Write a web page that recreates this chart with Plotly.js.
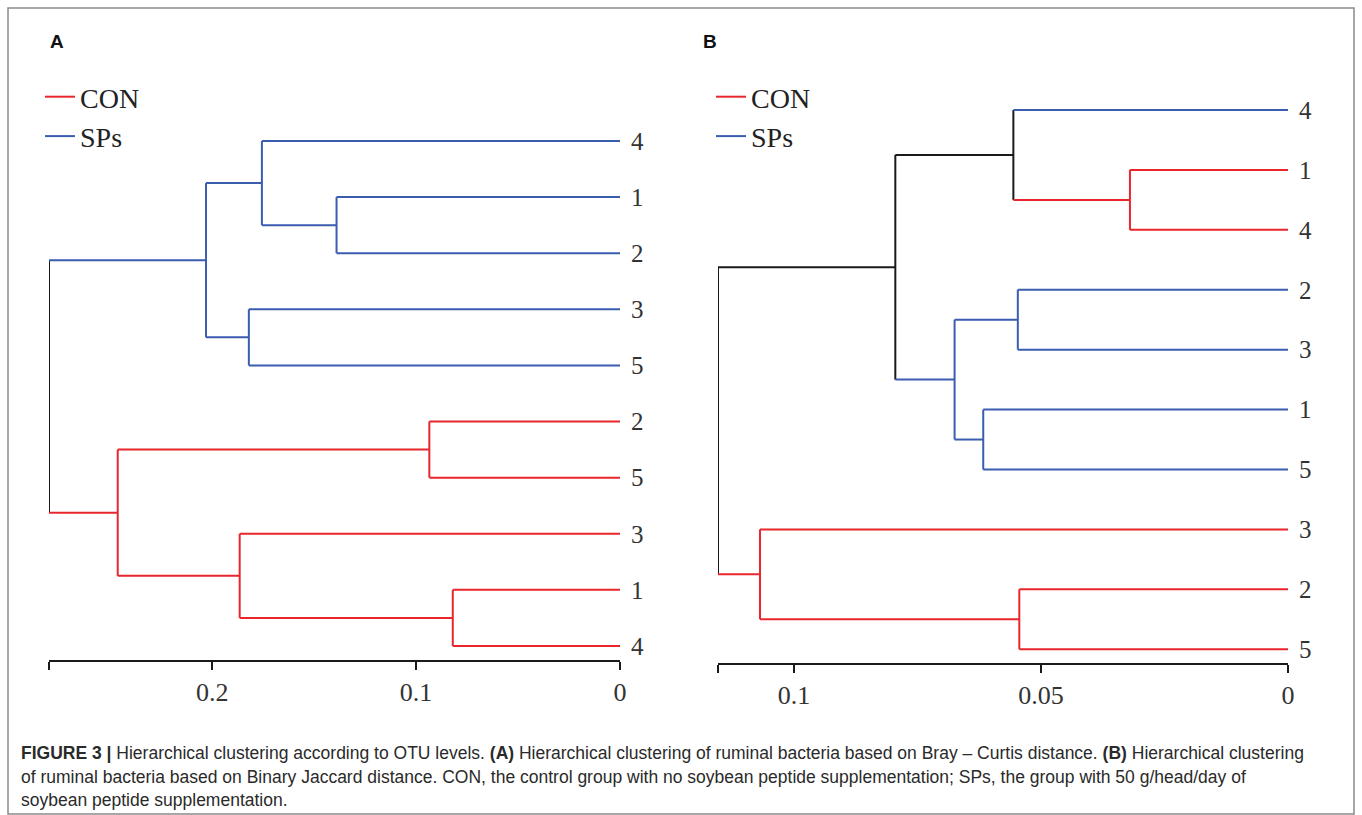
<!DOCTYPE html>
<html><head><meta charset="utf-8">
<script src="https://cdn.plot.ly/plotly-3.0.1.min.js"></script>
<style>html,body{margin:0;padding:0;background:#fff}#chart{width:1362px;height:815px}</style>
</head><body><div id="chart"></div>
<script>
// ---------- Panel A : Bray-Curtis ----------
const leafLabelsA = ['4','1','2','3','5','2','5','3','1','4'];
const leafGroupsA = ['SPs','SPs','SPs','SPs','SPs','CON','CON','CON','CON','CON'];
// merges: node index = leaves (0..9) then merges (10..)
const mergeLeftA   = [1, 0, 3, 11, 5, 8, 7, 14, 13];
const mergeRightA  = [2, 10, 4, 12, 6, 9, 15, 16, 17];
const mergeHeightA = [0.139, 0.1756, 0.182, 0.203, 0.0935, 0.082, 0.1865, 0.2463, 0.28];
const tickValsA = [0.28, 0.2, 0.1, 0];
const tickTextA = ['', '0.2', '0.1', '0'];

// ---------- Panel B : Binary Jaccard ----------
const leafLabelsB = ['4','1','4','2','3','1','5','3','2','5'];
const leafGroupsB = ['SPs','CON','CON','SPs','SPs','SPs','SPs','CON','CON','CON'];
const mergeLeftB   = [1, 0, 3, 5, 12, 11, 8, 7, 15];
const mergeRightB  = [2, 10, 4, 6, 13, 14, 9, 16, 17];
const mergeHeightB = [0.032, 0.0556, 0.0547, 0.0617, 0.0675, 0.0795, 0.0544, 0.1069, 0.1154];
const tickValsB = [0.1154, 0.1, 0.05, 0];
const tickTextB = ['', '0.1', '0.05', '0'];

const groupColors = {CON: '#e8262c', SPs: '#3a5db0', mixed: '#1a1a1a'};

function dendroTraces(labels, groups, L, R, H, xa, ya, legendId) {
  const n = labels.length;
  const nx = [], ny = [], ng = [];
  for (let i = 0; i < n; i++) { nx.push(0); ny.push(i + 1); ng.push(groups[i]); }
  const seg = {CON: {x: [], y: []}, SPs: {x: [], y: []}, mixed: {x: [], y: []}};
  function add(g, x0, y0, x1, y1) { seg[g].x.push(x0, x1, null); seg[g].y.push(y0, y1, null); }
  for (let j = 0; j < H.length; j++) {
    const a = L[j], b = R[j], h = H[j];
    const g = ng[a] === ng[b] ? ng[a] : 'mixed';
    add(ng[a], nx[a], ny[a], h, ny[a]);
    add(ng[b], nx[b], ny[b], h, ny[b]);
    add(g, h, ny[a], h, ny[b]);
    nx.push(h); ny.push((ny[a] + ny[b]) / 2); ng.push(g);
  }
  const out = [];
  ['mixed', 'CON', 'SPs'].forEach(g => {
    out.push({
      type: 'scatter', mode: 'lines', x: seg[g].x, y: seg[g].y, xaxis: xa, yaxis: ya,
      name: g, legend: legendId, legendgroup: legendId + g,
      showlegend: g !== 'mixed', hoverinfo: 'skip',
      line: {color: groupColors[g], width: 2}
    });
  });
  return out;
}

const traces = [].concat(
  dendroTraces(leafLabelsA, leafGroupsA, mergeLeftA, mergeRightA, mergeHeightA, 'x', 'y', 'legend'),
  dendroTraces(leafLabelsB, leafGroupsB, mergeLeftB, mergeRightB, mergeHeightB, 'x2', 'y2', 'legend2')
);

const W = 1362, Hh = 815;
const px = v => v / W, py = v => 1 - v / Hh;
const serif = 'Liberation Serif, Times New Roman, serif';
const sans = 'Liberation Sans, Arial, sans-serif';

function xAxis(dom, rng, tv, tt, anchor) {
  return {domain: dom, range: rng, anchor: anchor, showline: true, linecolor: '#1a1a1a', linewidth: 2,
    ticks: 'outside', ticklen: 8, tickwidth: 2, tickcolor: '#1a1a1a', tickvals: tv, ticktext: tt,
    tickfont: {family: serif, size: 26, color: '#333'}, showgrid: false, zeroline: false, fixedrange: true};
}
function yAxis(dom, rng, labels, anchor) {
  return {domain: dom, range: rng, anchor: anchor, side: 'right', showline: false, showgrid: false,
    zeroline: false, ticks: '', tickvals: labels.map((_, i) => i + 1), ticktext: labels,
    tickfont: {family: serif, size: 25, color: '#333'}, ticklabelstandoff: 10, fixedrange: true};
}

const legendBase = {font: {family: serif, size: 28, color: '#222'}, bgcolor: 'rgba(0,0,0,0)',
  borderwidth: 0, xanchor: 'left', yanchor: 'top', tracegroupgap: 12, itemwidth: 30, traceorder: 'normal'};

const captionFont = {family: sans, size: 17.5, color: '#2a2a2a'};

const layout = {
  width: W, height: Hh, margin: {l: 0, r: 0, t: 0, b: 0},
  paper_bgcolor: '#fff', plot_bgcolor: 'rgba(0,0,0,0)', showlegend: true,
  xaxis: xAxis([px(49), px(620)], [0.28, 0], tickValsA, tickTextA, 'y'),
  yaxis: yAxis([py(660), py(120)], [10.25, 0.626], leafLabelsA, 'x'),
  xaxis2: xAxis([px(718), px(1288)], [0.1154, 0], tickValsB, tickTextB, 'y2'),
  yaxis2: yAxis([py(663), py(90)], [10.23, 0.666], leafLabelsB, 'x2'),
  legend: Object.assign({x: px(40), y: py(72)}, legendBase),
  legend2: Object.assign({x: px(711), y: py(72)}, legendBase),
  shapes: [
    {type: 'rect', xref: 'paper', yref: 'paper', x0: px(8), x1: px(1354), y0: py(814), y1: py(8),
     line: {color: '#8a8a8a', width: 1.5}}
  ],
  annotations: [
    {text: '<b>A</b>', xref: 'paper', yref: 'paper', x: px(48), y: py(41), xanchor: 'left', yanchor: 'middle',
     showarrow: false, font: {family: sans, size: 19, color: '#111'}},
    {text: '<b>B</b>', xref: 'paper', yref: 'paper', x: px(701), y: py(41), xanchor: 'left', yanchor: 'middle',
     showarrow: false, font: {family: sans, size: 19, color: '#111'}},
    {text: '<b>FIGURE 3 |</b> Hierarchical clustering according to OTU levels. <b>(A)</b> Hierarchical clustering of ruminal bacteria based on Bray – Curtis distance. <b>(B)</b> Hierarchical clustering',
     xref: 'paper', yref: 'paper', x: px(19), y: py(753), xanchor: 'left', yanchor: 'middle', showarrow: false,
     font: captionFont},
    {text: 'of ruminal bacteria based on Binary Jaccard distance. CON, the control group with no soybean peptide supplementation; SPs, the group with 50 g/head/day of',
     xref: 'paper', yref: 'paper', x: px(19), y: py(777), xanchor: 'left', yanchor: 'middle', showarrow: false,
     font: captionFont},
    {text: 'soybean peptide supplementation.',
     xref: 'paper', yref: 'paper', x: px(19), y: py(800), xanchor: 'left', yanchor: 'middle', showarrow: false,
     font: captionFont}
  ]
};

Plotly.newPlot('chart', traces, layout, {displayModeBar: false, staticPlot: true});
</script>
</body></html>
